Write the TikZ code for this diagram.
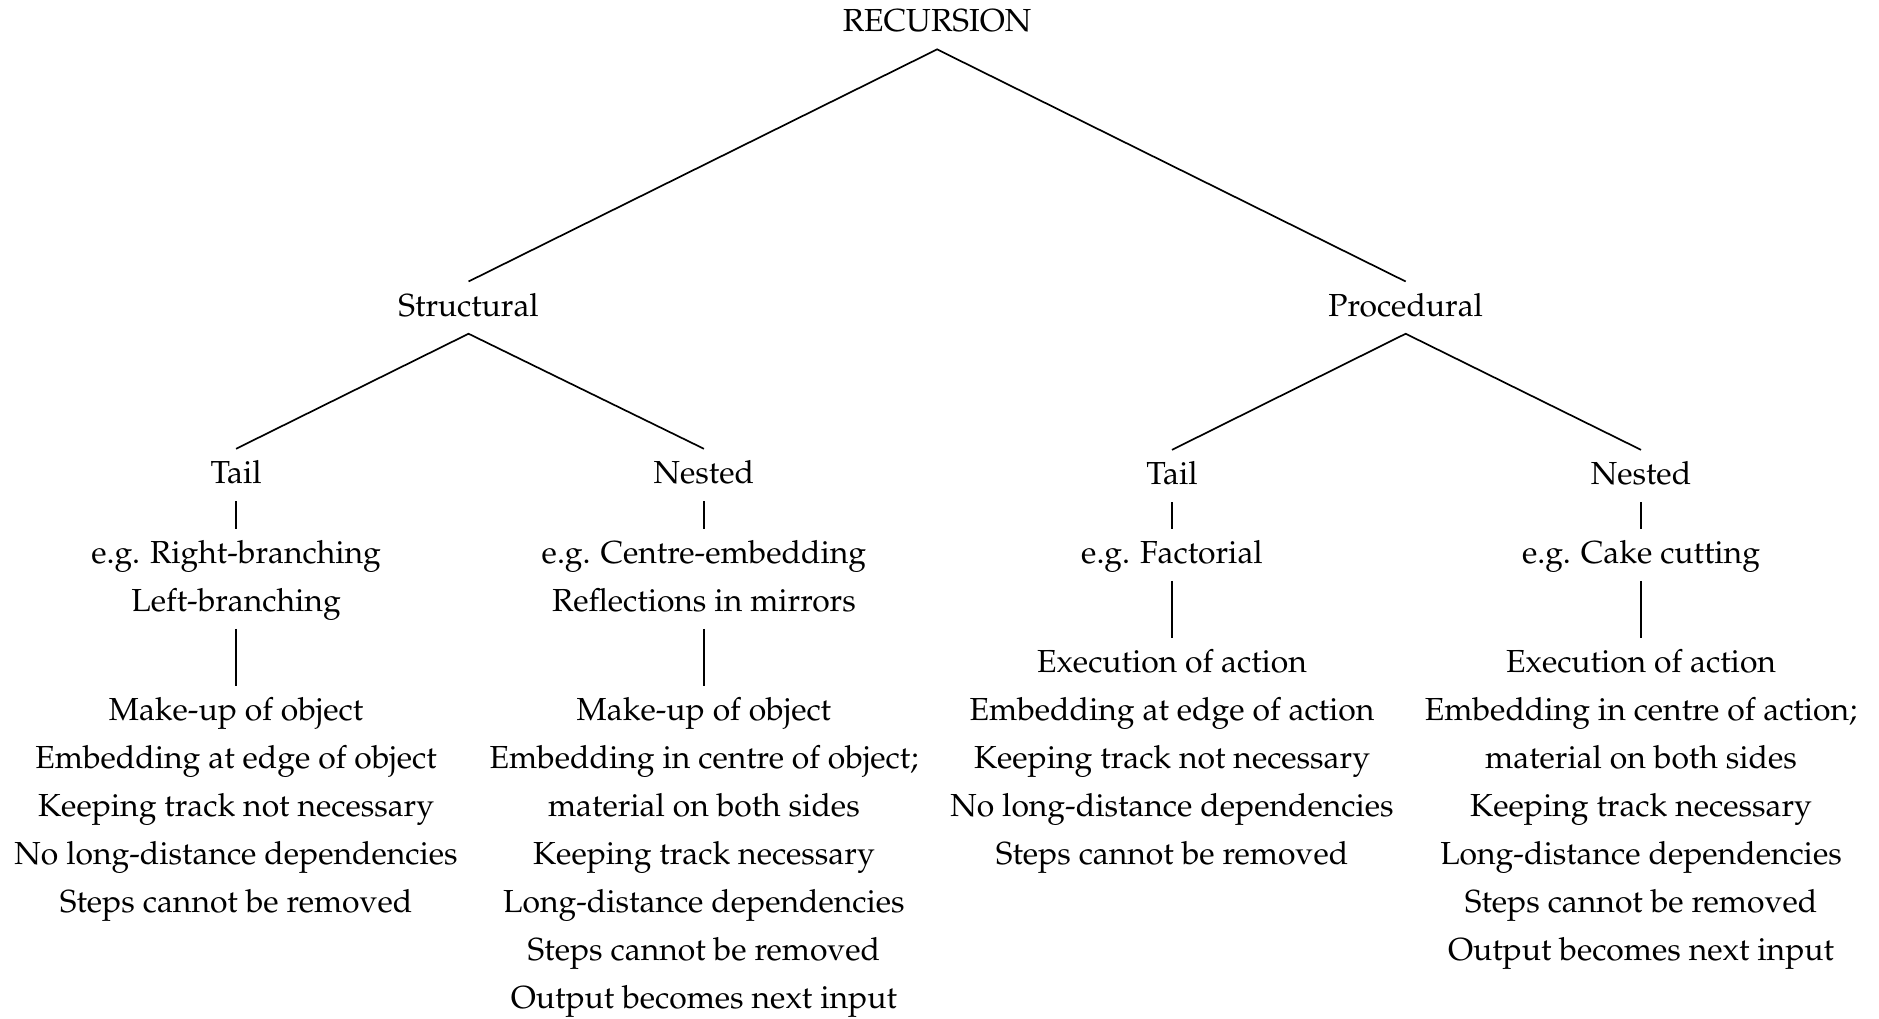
\documentclass[tikz,border=0pt]{standalone}
\usepackage[T1]{fontenc}
\usepackage{mathpazo}
\begin{document}
\begin{tikzpicture}[x=0.5pt,y=-0.5pt,
  lbl/.style={font=\fontsize{13.3}{16}\selectfont, anchor=base,
    inner xsep=0pt, inner ysep=4.2pt, text height=10pt, text depth=3pt},
  branch/.style={line width=0.7pt}]
\useasboundingbox (0,0) rectangle (1568,850);

% levels of the tree
\node[lbl] (root) at (782,26.4) {RECURSION};
\node[lbl] (str) at (391,263.7) {Structural};
\node[lbl] (pro) at (1173,263.7) {Procedural};
\node[lbl] (stail) at (197,403.3) {Tail};
\node[lbl] (snest) at (587.4,403.3) {Nested};
\node[lbl] (ptail) at (978,404.2) {Tail};
\node[lbl] (pnest) at (1369.4,404.2) {Nested};

% examples
\node[lbl] (ta1) at (197,470) {e.g. Right-branching};
\node[lbl] (ta2) at (197,510) {Left-branching};
\node[lbl] (na1) at (587.4,470) {e.g. Centre-embedding};
\node[lbl] (na2) at (587.4,510) {Reflections in mirrors};
\node[lbl] (pa) at (978,470) {e.g. Factorial};
\node[lbl] (qa) at (1369.4,470) {e.g. Cake cutting};

% properties
\foreach \t [count=\i] in {Make-up of object, Embedding at edge of object,
    Keeping track not necessary, No long-distance dependencies,
    Steps cannot be removed}
  \node[lbl] (tb\i) at (197,{561.5+40*\i}) {\t};
\foreach \t [count=\i] in {Make-up of object, Embedding in centre of object;,
    material on both sides, Keeping track necessary,
    Long-distance dependencies, Steps cannot be removed,
    Output becomes next input}
  \node[lbl] (nb\i) at (587.4,{561.5+40*\i}) {\t};
\foreach \t [count=\i] in {Execution of action, Embedding at edge of action,
    Keeping track not necessary, No long-distance dependencies,
    Steps cannot be removed}
  \node[lbl] (pb\i) at (978,{521.5+40*\i}) {\t};
\foreach \t [count=\i] in {Execution of action, Embedding in centre of action;,
    material on both sides, Keeping track necessary,
    Long-distance dependencies, Steps cannot be removed,
    Output becomes next input}
  \node[lbl] (qb\i) at (1369.4,{521.5+40*\i}) {\t};

% branches
\draw[branch] (str.north) -- (root.south) -- (pro.north);
\draw[branch] (stail.north) -- (str.south) -- (snest.north);
\draw[branch] (ptail.north) -- (pro.south) -- (pnest.north);
\draw[branch] (stail.south) -- (ta1.north);
\draw[branch] (snest.south) -- (na1.north);
\draw[branch] (ptail.south) -- (pa.north);
\draw[branch] (pnest.south) -- (qa.north);
\draw[branch] (ta2.south) -- (tb1.north);
\draw[branch] (na2.south) -- (nb1.north);
\draw[branch] (pa.south) -- (pb1.north);
\draw[branch] (qa.south) -- (qb1.north);
\end{tikzpicture}
\end{document}
